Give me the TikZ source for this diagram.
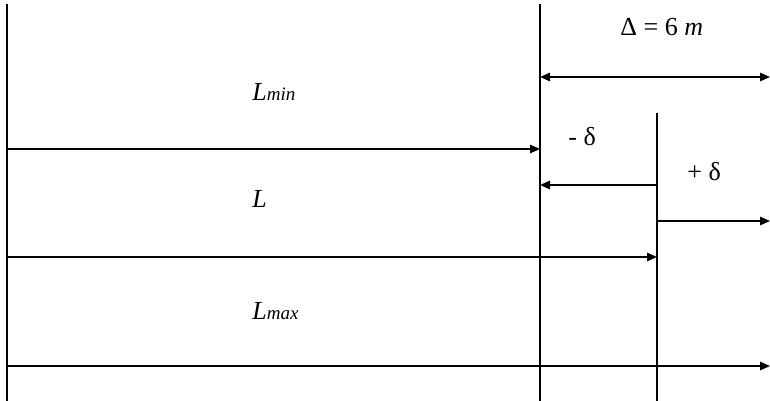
\documentclass[tikz,border=0pt]{standalone}
\usepackage{fontspec}
\setmainfont{Liberation Serif}
\usetikzlibrary{arrows.meta}
\usetikzlibrary{positioning}

\begin{document}
\begin{tikzpicture}[x=0.5pt, y=-0.5pt,
% define styles here
limitline/.style={line width=0.65pt},
lenarrow/.style={line width=0.9pt, -{Triangle[length=5pt,width=4.2pt]}},
spanarrow/.style={line width=0.9pt, {Triangle[length=5pt,width=4.2pt]}-{Triangle[length=5pt,width=4.2pt]}},
lbl/.style={anchor=base west, inner sep=0pt, font=\fontsize{13}{15}\selectfont}
]
\useasboundingbox (0,0) rectangle (770,401);

% vertical limits
\coordinate (starttop) at (7,4);
\coordinate (startbot) at (7,401);
\coordinate (mintop) at (540,4);
\coordinate (minbot) at (540,401);
\coordinate (nomtop) at (657,113);
\coordinate (nombot) at (657,401);
\draw[limitline] (starttop) -- (startbot);
\draw[limitline] (mintop) -- (minbot);
\draw[limitline] (nomtop) -- (nombot);

% arrow ends
\coordinate (spanleft) at (540,77);
\coordinate (spanright) at (770,77);
\coordinate (minstart) at (7,149);
\coordinate (minend) at (540,149);
\coordinate (negstart) at (657,185);
\coordinate (negend) at (540,185);
\coordinate (posstart) at (657,221);
\coordinate (posend) at (770,221);
\coordinate (nomstart) at (7,257);
\coordinate (nomend) at (657,257);
\coordinate (maxstart) at (7,366);
\coordinate (maxend) at (770,366);

\draw[spanarrow] (spanleft) -- (spanright);
\draw[lenarrow] (minstart) -- (minend);
\draw[lenarrow] (negstart) -- (negend);
\draw[lenarrow] (posstart) -- (posend);
\draw[lenarrow] (nomstart) -- (nomend);
\draw[lenarrow] (maxstart) -- (maxend);

% labels
\node[lbl] (spanlabel) at (620,36) {Δ = 6 \textit{m}};
\node[lbl] (minlabel) at (252,100) {\textit{L}\textit{\fontsize{9.5}{11}\selectfont min}};
\node[lbl] (neglabel) at (568,145) {- δ};
\node[lbl] (poslabel) at (687,180) {+ δ};
\node[lbl] (nomlabel) at (252,207) {\textit{L}};
\node[lbl] (maxlabel) at (252,319) {\textit{L}\textit{\fontsize{9.5}{11}\selectfont max}};
\end{tikzpicture}
\end{document}
